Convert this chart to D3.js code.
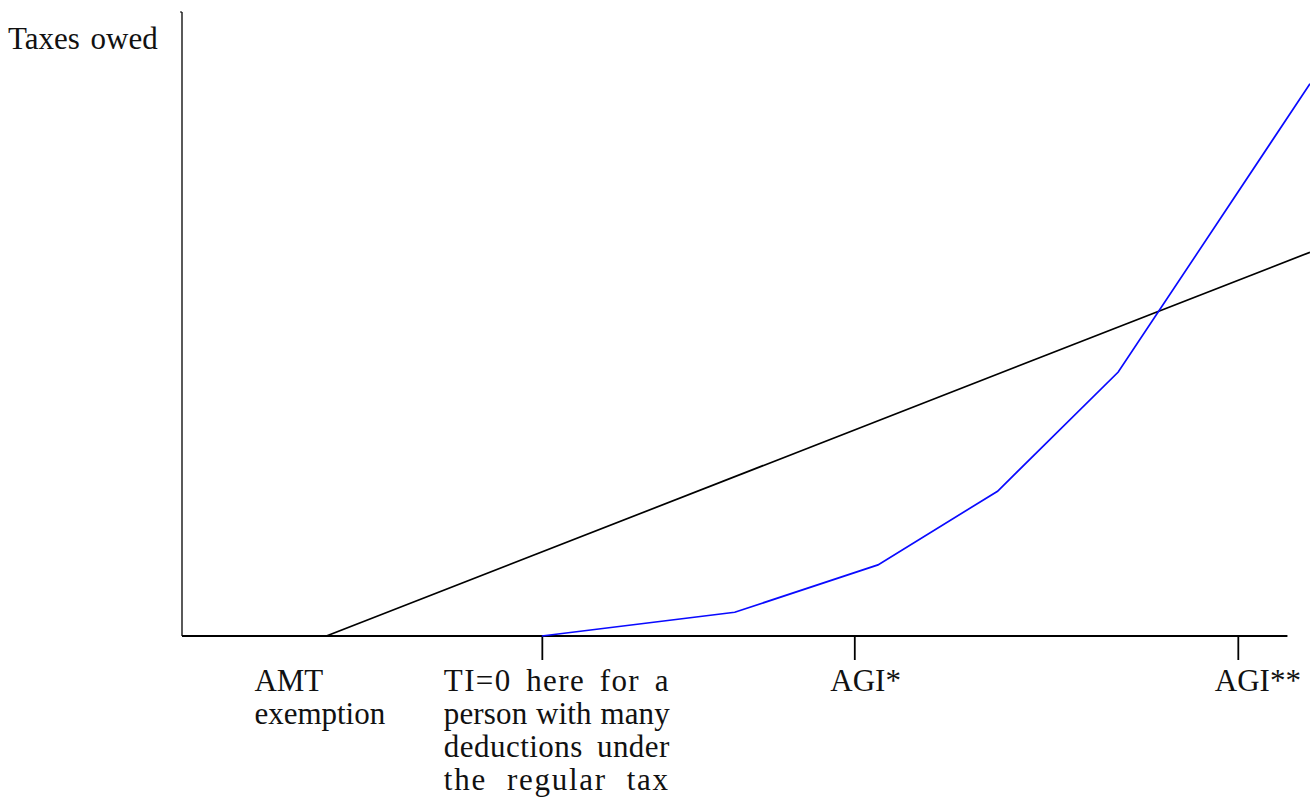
<!DOCTYPE html>
<html>
<head>
<meta charset="utf-8">
<script src="https://cdn.jsdelivr.net/npm/d3@7"></script>
<style>
  html, body { margin: 0; padding: 0; background: #fff; }
  svg { display: block; }
</style>
</head>
<body>
<svg id="chart" width="1310" height="806"></svg>
<script>
// ---- data (abstract income / tax units) ----
const amtIncome = [128, 1000];
const amtTax = [0, 61.5];
const regIncome = [319, 490, 617, 723, 830, 1000];
const regTax = [0, 3.8, 11.4, 23.2, 42.3, 88.5];
const tickValues = [319, 596, 936];
const yLabel = "Taxes owed";
const labelAmt = ["AMT", "exemption"];
const labelTi = ["TI=0 here for a", "person with many", "deductions under", "the regular tax"];
const labelAgi1 = ["AGI*"];
const labelAgi2 = ["AGI**"];

const FONT = '"Liberation Serif", "Times New Roman", serif';
const svg = d3.select("#chart");
const x = d3.scaleLinear().domain([0, 1000]).range([182, 1310]);
const y = d3.scaleLinear().domain([0, 100]).range([636, 12]);

// y axis
svg.append("line")
  .attr("x1", x(0)).attr("x2", x(0))
  .attr("y1", y(100)).attr("y2", y(0))
  .attr("stroke", "#000").attr("stroke-width", 1.3);
svg.append("line")
  .attr("x1", x(0) - 2).attr("x2", x(0))
  .attr("y1", y(100)).attr("y2", y(100))
  .attr("stroke", "#000").attr("stroke-width", 1);

// x axis with ticks
const xAxis = d3.axisBottom(x).tickValues(tickValues).tickSize(24).tickFormat("").tickSizeOuter(0);
const gx = svg.append("g").attr("transform", `translate(0,${y(0)})`).call(xAxis);
gx.select(".domain").attr("d", `M${x(0)},0H${x(980)}`).attr("stroke", "#000").attr("stroke-width", 1.8);
gx.selectAll(".tick line").attr("stroke", "#000").attr("stroke-width", 1.8);

// lines
const line = d3.line().x(d => x(d[0])).y(d => y(d[1]));
svg.append("path")
  .datum(amtIncome.map((v, i) => [v, amtTax[i]]))
  .attr("d", line).attr("fill", "none").attr("stroke", "#000").attr("stroke-width", 1.7);
svg.append("path")
  .datum(regIncome.map((v, i) => [v, regTax[i]]))
  .attr("d", line).attr("fill", "none").attr("stroke", "#0a0aff").attr("stroke-width", 1.7);

// labels
function addText(lines, left, justifyWidth) {
  lines.forEach((s, i) => {
    const t = svg.append("text").style("font-family", FONT).style("font-size", "31px").attr("fill", "#111")
      .attr("x", left).attr("y", 691 + i * 33).text(s);
    if (justifyWidth) {
      const w = t.node().getComputedTextLength();
      const spaces = (s.match(/ /g) || []).length;
      const extra = justifyWidth - w;
      if (extra > 0) {
        const ls = (extra * 0.55) / s.length;
        t.style("letter-spacing", ls + "px");
        const w2 = t.node().getComputedTextLength();
        if (spaces > 0 && w2 < justifyWidth) t.style("word-spacing", ((justifyWidth - w2) / spaces) + "px");
      }
    }
  });
}
svg.append("text").style("font-family", FONT).style("font-size", "31px").attr("fill", "#111")
  .attr("x", 8).attr("y", 49).style("word-spacing", "3px").text(yLabel);

addText(labelAmt, x(amtIncome[0]) - 72);
addText(labelTi, x(tickValues[0]) - 98, 226);
addText(labelAgi1, x(tickValues[1]) - 24);
addText(labelAgi2, x(tickValues[2]) - 23);
</script>
</body>
</html>
